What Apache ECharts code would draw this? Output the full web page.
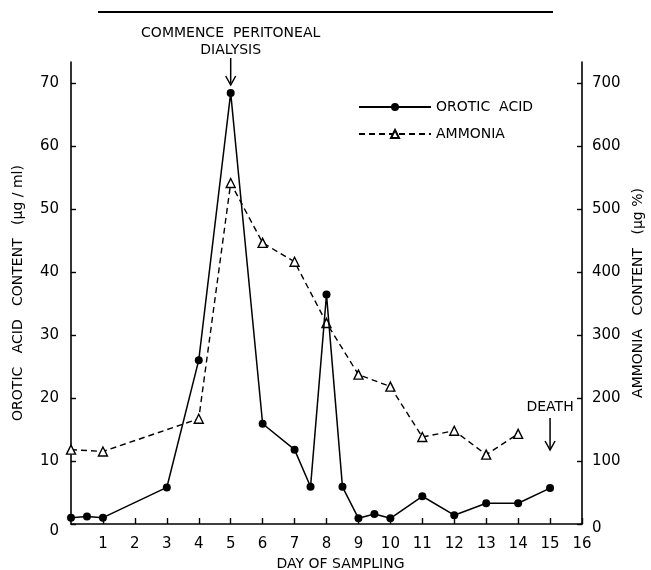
<!DOCTYPE html>
<html>
<head>
<meta charset="utf-8">
<script src="https://cdn.jsdelivr.net/npm/echarts@6/dist/echarts.min.js"></script>
<style>html,body{margin:0;padding:0;background:#fff}#c{width:651px;height:570px}</style>
</head>
<body>
<div id="c"></div>
<script>
const oroticDays = [0, 0.5, 1, 3, 4, 5, 6, 7, 7.5, 8, 8.5, 9, 9.5, 10, 11, 12, 13, 14, 15];
const oroticValues = [1.0, 1.2, 1.0, 5.8, 26, 68.4, 15.9, 11.8, 5.9, 36.4, 5.9, 0.9, 1.6, 0.9, 4.4, 1.4, 3.3, 3.3, 5.7];
const ammoniaDays = [0, 1, 4, 5, 6, 7, 8, 9, 10, 11, 12, 13, 14];
const ammoniaValues = [118, 115, 167, 541, 446, 416, 319, 237, 218, 138, 148, 110, 143];
const xTicks = [1,2,3,4,5,6,7,8,9,10,11,12,13,14,15,16];
const leftTicks = [0,10,20,30,40,50,60,70];
const rightTicks = [0,100,200,300,400,500,600,700];

const FONT = 'DejaVu Sans';
const chart = echarts.init(document.getElementById('c'), null, {renderer: 'canvas'});
const axisLineStyle = {color: '#000', width: 1.6};
const zeroFmt = v => (v === 0 ? '{z|0}' : String(v));
chart.setOption({
  animation: false,
  backgroundColor: '#fff',
  textStyle: {fontFamily: FONT, color: '#000'},
  grid: {left: 71, right: 69, top: 62, bottom: 46, containLabel: false, outerBoundsMode: 'none'},
  legend: {
    orient: 'vertical', left: 353, top: 95, itemWidth: 72, itemHeight: 10, itemGap: 13,
    textStyle: {fontFamily: FONT, fontSize: 14, color: '#000'},
    data: ['OROTIC  ACID', 'AMMONIA']
  },
  xAxis: {
    type: 'value', min: 0, max: 16, interval: 1,
    name: 'DAY OF SAMPLING', nameLocation: 'middle', nameGap: 31,
    nameTextStyle: {fontFamily: FONT, fontSize: 14, color: '#000', padding: [0, 0, 0, 28]},
    axisLine: {show: true, onZero: false, lineStyle: axisLineStyle},
    axisTick: {show: true, inside: true, length: 6, lineStyle: {color: '#000', width: 1.4}, customValues: xTicks},
    axisLabel: {fontFamily: FONT, fontSize: 15, color: '#000', margin: 13, customValues: xTicks},
    splitLine: {show: false}
  },
  yAxis: [{
    type: 'value', min: 0, max: 73.3, position: 'left',
    name: 'OROTIC   ACID   CONTENT   (\u03bcg / ml)', nameLocation: 'middle', nameGap: 46, nameRotate: 90,
    nameTextStyle: {fontFamily: FONT, fontSize: 14, color: '#000'},
    axisLine: {show: true, lineStyle: axisLineStyle},
    axisTick: {show: true, inside: true, length: 5, lineStyle: {color: '#000', width: 1.4}, customValues: leftTicks},
    axisLabel: {fontFamily: FONT, fontSize: 15, color: '#000', margin: 12, customValues: leftTicks,
      formatter: zeroFmt, rich: {z: {fontFamily: FONT, fontSize: 15, padding: [14, 0, 0, 0]}}},
    splitLine: {show: false}
  }, {
    type: 'value', min: 0, max: 733, position: 'right',
    name: 'AMMONIA   CONTENT   (\u03bcg %)', nameLocation: 'middle', nameGap: 47, nameRotate: 90,
    nameTextStyle: {fontFamily: FONT, fontSize: 14, color: '#000'},
    axisLine: {show: true, lineStyle: axisLineStyle},
    axisTick: {show: true, inside: true, length: 5, lineStyle: {color: '#000', width: 1.4}, customValues: rightTicks},
    axisLabel: {fontFamily: FONT, fontSize: 15, color: '#000', margin: 10, customValues: rightTicks,
      formatter: zeroFmt, rich: {z: {fontFamily: FONT, fontSize: 15, padding: [8, 0, 0, 0]}}},
    splitLine: {show: false}
  }],
  series: [{
    name: 'OROTIC  ACID', type: 'line', yAxisIndex: 0,
    data: oroticDays.map((d, i) => [d, oroticValues[i]]),
    symbol: 'circle', symbolSize: 8,
    itemStyle: {color: '#000'},
    lineStyle: {color: '#000', width: 1.5},
    z: 3
  }, {
    name: 'AMMONIA', type: 'line', yAxisIndex: 1,
    data: ammoniaDays.map((d, i) => [d, ammoniaValues[i]]),
    symbol: 'triangle', symbolSize: 9,
    itemStyle: {color: '#fff', borderColor: '#000', borderWidth: 1.4},
    lineStyle: {color: '#000', width: 1.4, type: [6, 4]},
    z: 2
  }]
});

function px(x, y) { return chart.convertToPixel({xAxisIndex: 0, yAxisIndex: 0}, [x, y]); }
function arrow(x, y1, y2) {
  return [
    {type: 'line', shape: {x1: x, y1: y1, x2: x, y2: y2}, style: {stroke: '#000', lineWidth: 1.5}},
    {type: 'polyline', shape: {points: [[x - 5, y2 - 9], [x, y2], [x + 5, y2 - 9]]}, style: {stroke: '#000', lineWidth: 1.5, fill: null}}
  ];
}
const dial = px(5, 68.4);
const death = px(15, 5.7);
const els = [
  {type: 'line', shape: {x1: 98, y1: 12, x2: 553, y2: 12}, style: {stroke: '#000', lineWidth: 2}},
  {type: 'text', x: dial[0], y: 33, style: {text: 'COMMENCE  PERITONEAL', font: '14px ' + FONT, fill: '#000', align: 'center', verticalAlign: 'middle'}},
  {type: 'text', x: dial[0], y: 50, style: {text: 'DIALYSIS', font: '14px ' + FONT, fill: '#000', align: 'center', verticalAlign: 'middle'}},
  ...arrow(dial[0], 58, 85),
  {type: 'text', x: death[0], y: 407, style: {text: 'DEATH', font: '14px ' + FONT, fill: '#000', align: 'center', verticalAlign: 'middle'}},
  ...arrow(death[0], 418, 450)
];
chart.setOption({graphic: els});
</script>
</body>
</html>
